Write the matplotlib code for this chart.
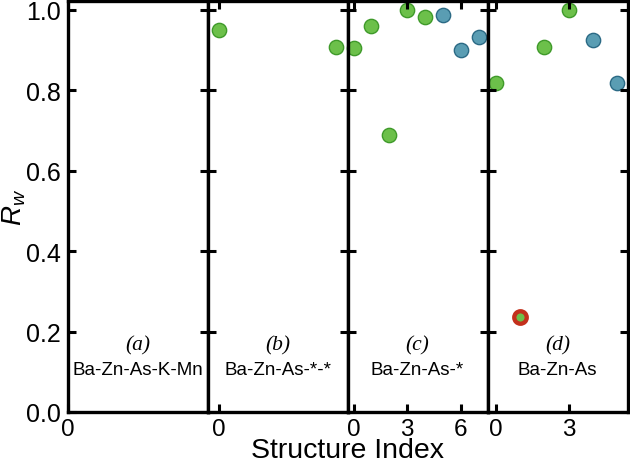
import matplotlib
matplotlib.use("Agg")
import matplotlib.pyplot as plt
from matplotlib.ticker import MultipleLocator

# ---- data ----
panel_letters = ["(a)", "(b)", "(c)", "(d)"]
panel_names = ["Ba-Zn-As-K-Mn", "Ba-Zn-As-*-*", "Ba-Zn-As-*", "Ba-Zn-As"]

b_green_x = [0, 1]
b_green_y = [0.949, 0.908]

c_green_x = [0, 1, 2, 3, 4]
c_green_y = [0.904, 0.960, 0.689, 0.999, 0.981]
c_blue_x = [5, 6, 7]
c_blue_y = [0.988, 0.899, 0.932]

d_green_x = [0, 2, 3]
d_green_y = [0.819, 0.907, 1.000]
d_red_x = [1]
d_red_y = [0.236]
d_blue_x = [4, 5]
d_blue_y = [0.924, 0.819]

xlims = [(0, 1), (-0.1, 1.1), (-0.34, 7.5), (-0.33, 5.42)]

GREEN = "#6cc04a"
GREEN_E = "#3f9a2a"
BLUE = "#5a9db3"
BLUE_E = "#2b6a85"
RED = "#c3301c"

plt.rcParams["font.family"] = ["Liberation Sans", "DejaVu Sans"]
plt.rcParams["mathtext.fontset"] = "custom"
plt.rcParams["mathtext.it"] = "Liberation Sans:italic"
plt.rcParams["mathtext.rm"] = "Liberation Sans"

fig = plt.figure(figsize=(6.3, 4.64), dpi=100)
left, right = 67.5 / 630, 627.5 / 630
bottom, top = 1 - 413 / 464, 1 - 2 / 464
gs = fig.add_gridspec(1, 4, left=left, right=right, bottom=bottom, top=top, wspace=0)
axes = [fig.add_subplot(gs[0, i]) for i in range(4)]

ms = 10.3
for i, ax in enumerate(axes):
    ax.set_ylim(0, 1.022)
    ax.set_xlim(*xlims[i])
    ax.xaxis.set_major_locator(MultipleLocator(3))
    ax.yaxis.set_major_locator(MultipleLocator(0.2))
    ax.tick_params(direction="in", length=6, width=2.2, top=True, right=True,
                   labelsize=18, pad=5)
    ax.tick_params(axis="x", labelsize=17.5, pad=4)
    for s in ax.spines.values():
        s.set_linewidth(2.4)
    if i > 0:
        ax.tick_params(labelleft=False)
    ax.text(0.5, 0.164, panel_letters[i], transform=ax.transAxes,
            ha="center", va="center", fontsize=15.5, style="italic",
            family=["Liberation Serif", "DejaVu Serif"])
    ax.text(0.5, 0.103, panel_names[i], transform=ax.transAxes,
            ha="center", va="center", fontsize=13.5)

def pts(ax, x, y, fc, ec):
    ax.plot(x, y, "o", ms=ms, mfc=fc, mec=ec, mew=1.0, ls="none", zorder=1.5, clip_on=False)

pts(axes[1], b_green_x, b_green_y, GREEN, GREEN_E)
pts(axes[2], c_green_x, c_green_y, GREEN, GREEN_E)
pts(axes[2], c_blue_x, c_blue_y, BLUE, BLUE_E)
pts(axes[3], d_green_x, d_green_y, GREEN, GREEN_E)
pts(axes[3], d_blue_x, d_blue_y, BLUE, BLUE_E)
axes[3].plot(d_red_x, d_red_y, "o", ms=9.0, mfc=GREEN, mec=RED, mew=3.1, ls="none", zorder=1.5)

axes[0].set_ylabel("$R_w$", fontsize=20, labelpad=-2)
fig.text((left + right) / 2, 5.5 / 464, "Structure Index", ha="center", va="baseline", fontsize=20.5)

fig.savefig("out.png", dpi=100)
